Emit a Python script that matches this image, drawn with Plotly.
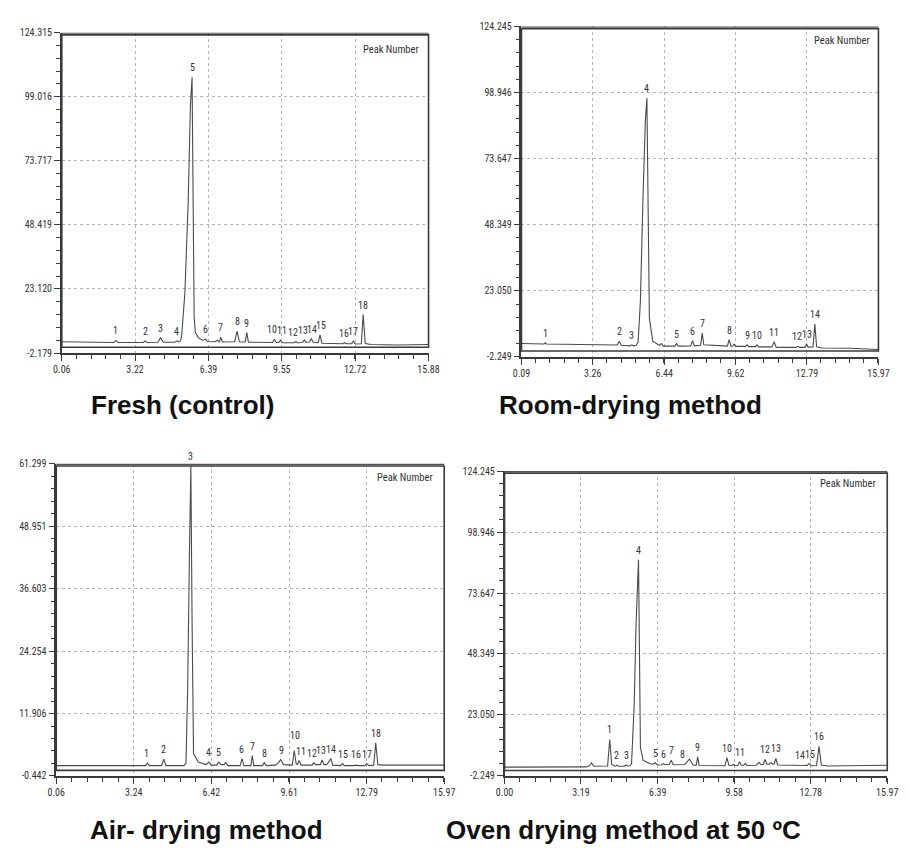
import plotly.graph_objects as go

# ---------------- Fresh (control) ----------------
fresh_time = [0.06, 1.20, 2.30, 2.39, 2.48, 3.58, 3.66, 3.74, 4.20, 4.32, 4.44, 4.94, 5.02, 5.10,
              5.18, 5.23, 5.37, 5.51, 5.61, 5.68, 5.73, 5.77, 5.82, 5.95, 6.15, 6.26, 6.34, 6.68,
              6.76, 6.82, 6.86, 6.92, 6.99, 7.52, 7.62, 7.72, 7.97, 8.04, 8.11, 9.15, 9.23, 9.31,
              9.42, 9.49, 9.56, 10.08, 10.15, 10.22, 10.45, 10.52, 10.60, 10.75, 10.82, 10.90,
              11.12, 11.20, 11.28, 12.18, 12.26, 12.34, 12.56, 12.64, 12.72, 12.98, 13.06, 13.15,
              13.40, 14.60, 15.88]
fresh_signal = [2.3, 2.1, 2.0, 2.8, 2.0, 2.0, 2.6, 2.0, 2.1, 3.8, 2.1, 2.1, 2.6, 2.2,
                2.6, 4.6, 21.5, 56.7, 95.7, 106.7, 55.0, 12.0, 6.0, 3.8, 2.8, 3.4, 2.4, 2.3,
                2.9, 2.2, 2.2, 4.1, 2.2, 2.3, 6.5, 2.3, 2.2, 5.9, 2.1, 2.0, 3.3, 2.0,
                2.0, 2.9, 1.9, 1.9, 2.3, 1.9, 2.0, 3.0, 2.1, 2.2, 3.5, 2.2,
                1.9, 5.0, 1.7, 1.5, 1.9, 1.5, 1.5, 2.6, 1.4, 1.5, 13.0, 1.6,
                1.2, 1.0, 1.2]
fresh_peak_no = ["1", "2", "3", "4", "5", "6", "7", "8", "9", "10", "11", "12", "13", "14",
                 "15", "16", "17", "18"]
fresh_peak_time = [2.39, 3.66, 4.32, 5.02, 5.68, 6.26, 6.92, 7.62, 8.04, 9.14, 9.56, 10.03,
                   10.45, 10.85, 11.26, 12.24, 12.64, 13.06]
fresh_peak_height = [2.8, 2.6, 3.8, 2.6, 106.7, 3.4, 4.1, 6.5, 5.9, 3.3, 2.9, 2.3,
                     3.0, 3.5, 5.0, 1.9, 2.6, 13.0]
fresh_xticks = ["0.06", "3.22", "6.39", "9.55", "12.72", "15.88"]
fresh_yticks = ["-2.179", "23.120", "48.419", "73.717", "99.016", "124.315"]

# ---------------- Room-drying ----------------
room_time = [0.09, 0.80, 1.10, 1.15, 1.20, 3.50, 4.35, 4.44, 4.53, 4.92, 4.99, 5.08, 5.20,
             5.28, 5.38, 5.49, 5.60, 5.67, 5.73, 5.78, 5.93, 6.22, 6.32, 6.40, 6.92, 6.99,
             7.06, 7.62, 7.70, 7.78, 8.06, 8.13, 8.20, 9.25, 9.33, 9.41, 9.49, 9.55, 9.62,
             10.06, 10.13, 10.20, 10.50, 10.57, 10.64, 11.24, 11.33, 11.42, 12.30, 12.38,
             12.46, 12.70, 12.77, 12.84, 13.06, 13.14, 13.22, 13.45, 14.70, 15.97]
room_signal = [2.9, 2.8, 2.7, 3.2, 2.7, 2.4, 2.3, 3.8, 2.2, 2.0, 2.4, 2.0, 2.2,
               3.5, 19.0, 56.6, 88.0, 96.8, 56.0, 12.6, 3.8, 2.2, 2.9, 1.9, 1.9, 2.9,
               1.9, 2.0, 4.0, 2.0, 2.2, 6.9, 2.4, 1.9, 4.4, 1.8, 1.9, 2.6, 1.8,
               1.8, 2.4, 1.7, 1.7, 2.4, 1.6, 1.6, 3.6, 1.4, 1.4, 1.8,
               1.4, 1.4, 2.8, 1.5, 1.6, 10.3, 1.6, 1.2, 1.1, 0.6]
room_peak_no = ["1", "2", "3", "4", "5", "6", "7", "8", "9", "10", "11", "12", "13", "14"]
room_peak_time = [1.15, 4.44, 4.99, 5.67, 6.99, 7.70, 8.13, 9.33, 10.13, 10.57, 11.33,
                  12.36, 12.77, 13.14]
room_peak_height = [3.2, 3.8, 2.4, 96.8, 2.9, 4.0, 6.9, 4.4, 2.4, 2.4, 3.6, 1.8, 2.8, 10.3]
room_xticks = ["0.09", "3.26", "6.44", "9.62", "12.79", "15.97"]
room_yticks = ["-2.249", "23.050", "48.349", "73.647", "98.946", "124.245"]

# ---------------- Air-drying ----------------
air_time = [0.06, 2.00, 3.72, 3.80, 3.88, 4.38, 4.47, 4.56, 5.30, 5.38, 5.45, 5.52, 5.58,
            5.63, 5.69, 5.88, 6.20, 6.32, 6.42, 6.64, 6.72, 6.82, 6.94, 7.01, 7.10, 7.60,
            7.68, 7.76, 8.04, 8.10, 8.16, 8.52, 8.59, 8.67, 9.05, 9.18, 9.26, 9.38, 9.74,
            9.82, 9.90, 9.96, 10.02, 10.10, 10.55, 10.62, 10.70, 10.89, 10.96, 11.04, 11.14,
            11.22, 11.32, 11.40, 11.72, 11.80, 11.88, 12.28, 12.36, 12.44, 12.72, 12.79,
            12.88, 13.08, 13.16, 13.25, 13.50, 15.97]
air_signal = [1.6, 1.6, 1.6, 2.1, 1.6, 1.6, 2.9, 1.6, 1.6, 2.1, 17.0, 43.0, 60.8,
              30.0, 4.0, 2.3, 1.8, 2.3, 1.7, 1.7, 2.3, 1.8, 1.8, 2.2, 1.6, 1.6,
              3.0, 1.6, 1.6, 3.6, 1.6, 1.6, 2.2, 1.6, 1.7, 2.2, 2.8, 1.8, 1.7,
              4.6, 1.9, 1.9, 2.6, 1.7, 1.7, 2.2, 1.8, 1.8, 2.7, 1.8, 1.8,
              2.2, 3.0, 1.7, 1.6, 2.0, 1.6, 1.6, 1.7, 1.6, 1.6, 2.0,
              1.6, 1.7, 6.1, 1.8, 1.7, 1.7]
air_peak_no = ["1", "2", "3", "4", "5", "6", "7", "8", "9", "10", "11", "12", "13", "14",
               "15", "16", "17", "18"]
air_peak_time = [3.78, 4.45, 5.58, 6.32, 6.72, 7.66, 8.10, 8.59, 9.28, 9.84, 10.08, 10.55,
                 10.93, 11.32, 11.80, 12.36, 12.79, 13.16]
air_peak_height = [2.1, 2.9, 60.8, 2.3, 2.3, 3.0, 3.6, 2.2, 2.8, 5.6, 2.6, 2.2,
                   2.7, 3.0, 2.0, 1.9, 2.0, 6.1]
air_xticks = ["0.06", "3.24", "6.42", "9.61", "12.79", "15.97"]
air_yticks = ["-0.442", "11.906", "24.254", "36.603", "48.951", "61.299"]

# ---------------- Oven drying 50 ºC ----------------
oven_time = [0.00, 2.00, 3.40, 3.55, 3.63, 3.72, 4.30, 4.39, 4.47, 4.62, 4.69, 4.76, 4.99,
             5.06, 5.14, 5.24, 5.30, 5.41, 5.49, 5.59, 5.63, 5.67, 5.78, 6.05, 6.20, 6.29,
             6.38, 6.55, 6.62, 6.70, 6.88, 6.96, 7.04, 7.38, 7.45, 7.52, 7.71, 7.88, 8.00,
             8.06, 8.12, 9.20, 9.28, 9.36, 9.50, 9.56, 9.62, 9.74, 9.81, 9.88, 9.98, 10.05,
             10.12, 10.50, 10.62, 10.70, 10.80, 10.87, 10.95, 11.05, 11.12, 11.20, 11.25,
             11.32, 11.40, 12.20, 12.37, 12.45, 12.62, 12.71, 12.80, 13.02, 13.12, 13.22,
             13.50, 15.97]
oven_signal = [1.4, 1.3, 1.5, 2.0, 3.2, 1.8, 1.9, 12.9, 2.5, 1.8, 2.2, 1.8, 1.8,
               2.2, 1.9, 2.0, 2.9, 27.5, 61.5, 87.4, 48.0, 9.7, 4.3, 2.9, 2.6, 3.2,
               2.3, 2.4, 2.9, 2.4, 2.6, 4.3, 2.4, 2.4, 2.7, 2.5, 4.7, 2.2, 2.2,
               5.7, 2.1, 2.0, 5.4, 2.2, 2.1, 2.6, 2.0, 2.2, 3.6, 2.2, 2.2, 3.0,
               2.1, 2.2, 3.4, 2.4, 2.6, 4.6, 2.6, 2.6, 3.2, 2.6, 2.7,
               5.0, 2.3, 2.0, 2.2, 2.0, 2.1, 2.9, 2.0, 2.1, 10.0, 2.3,
               1.9, 2.2]
oven_peak_no = ["1", "2", "3", "4", "5", "6", "7", "8", "9", "10", "11", "12", "13", "14",
                "15", "16"]
oven_peak_time = [4.39, 4.69, 5.07, 5.59, 6.31, 6.62, 6.96, 7.43, 8.06, 9.30, 9.81, 10.88,
                  11.32, 12.31, 12.74, 13.14]
oven_peak_height = [12.9, 2.2, 2.2, 87.4, 3.2, 2.9, 4.3, 2.7, 5.7, 5.4, 3.6, 4.6,
                    5.0, 2.2, 2.9, 10.0]
oven_xticks = ["0.00", "3.19", "6.39", "9.58", "12.78", "15.97"]
oven_yticks = ["-2.249", "23.050", "48.349", "73.647", "98.946", "124.245"]

panel_titles = ["Fresh (control)", "Room-drying method", "Air- drying method",
                "Oven drying method at 50 ºC"]

# ---------------- layout / styling ----------------
NARROW = "Liberation Sans Narrow, Arial Narrow, Roboto Condensed, DejaVu Sans Condensed, sans-serif"
BOLD = "Liberation Sans, Arial, sans-serif"
INK = "#3a3a3a"

panels = [
    dict(t=fresh_time, s=fresh_signal, pn=fresh_peak_no, pt=fresh_peak_time, ph=fresh_peak_height,
         xt=fresh_xticks, yt=fresh_yticks, xd=[0.0593, 0.4714], yd=[0.5854, 0.9682],
         title=panel_titles[0], tx=0.195, ty=0.523, pnx=0.979, pny=0.948),
    dict(t=room_time, s=room_signal, pn=room_peak_no, pt=room_peak_time, ph=room_peak_height,
         xt=room_xticks, yt=room_yticks, xd=[0.5758, 0.9769], yd=[0.5807, 0.9756],
         title=panel_titles[1], tx=0.698, ty=0.523, pnx=0.981, pny=0.956),
    dict(t=air_time, s=air_signal, pn=air_peak_no, pt=air_peak_time, ph=air_peak_height,
         xt=air_xticks, yt=air_yticks, xd=[0.0531, 0.4890], yd=[0.0801, 0.4531],
         title=panel_titles[2], tx=0.222, ty=0.0153, pnx=0.977, pny=0.956),
    dict(t=oven_time, s=oven_signal, pn=oven_peak_no, pt=oven_peak_time, ph=oven_peak_height,
         xt=oven_xticks, yt=oven_yticks, xd=[0.5568, 0.9868], yd=[0.0801, 0.4444],
         title=panel_titles[3], tx=0.691, ty=0.0153, pnx=0.977, pny=0.959),
]

fig = go.Figure()
annotations = []
shapes = []
layout_axes = {}

for i, p in enumerate(panels, start=1):
    sfx = "" if i == 1 else str(i)
    xa, ya = "x" + sfx, "y" + sfx
    fig.add_trace(go.Scatter(x=p["t"], y=p["s"], mode="lines", xaxis=xa, yaxis=ya,
                             line=dict(color="#4a4a4a", width=1.1), showlegend=False,
                             hoverinfo="skip"))
    xv = [float(v) for v in p["xt"]]
    yv = [float(v) for v in p["yt"]]
    xstep = (xv[1] - xv[0]) / 5.0
    ystep = (yv[1] - yv[0]) / 5.0
    common = dict(showline=True, linecolor=INK, linewidth=1.5, ticks="outside", ticklen=6,
                  tickwidth=1, tickcolor=INK, zeroline=False, showgrid=True,
                  gridcolor="#b4b4b4", griddash="dot", gridwidth=1,
                  tickfont=dict(family=NARROW, size=10, color="#333333"), fixedrange=True)
    layout_axes["xaxis" + sfx] = dict(common, domain=p["xd"], range=[xv[0], xv[-1]],
                                      anchor=ya, tickmode="array", tickvals=xv, ticktext=p["xt"],
                                      minor=dict(tickmode="linear", tick0=xv[0], dtick=xstep,
                                                 ticks="outside", ticklen=4, tickcolor=INK,
                                                 showgrid=False))
    layout_axes["yaxis" + sfx] = dict(common, domain=p["yd"], range=[yv[0], yv[-1]],
                                      anchor=xa, tickmode="array", tickvals=yv, ticktext=p["yt"],
                                      minor=dict(tickmode="linear", tick0=yv[0], dtick=ystep,
                                                 ticks="outside", ticklen=4, tickcolor=INK,
                                                 showgrid=False))
    # chart frame (box) drawn in axis-domain coordinates
    shapes.append(dict(type="rect", xref=xa + " domain", yref=ya + " domain",
                       x0=0, x1=1, y0=0.018, y1=0.993,
                       line=dict(color=INK, width=1.6), layer="above"))
    shapes.append(dict(type="line", xref=xa + " domain", yref=ya + " domain",
                       x0=0, x1=1, y0=0.998, y1=0.998,
                       line=dict(color="#555555", width=1.2), layer="above"))
    # peak number labels
    for n, t, h in zip(p["pn"], p["pt"], p["ph"]):
        annotations.append(dict(x=t, y=h, xref=xa, yref=ya, text=n, showarrow=False,
                                yanchor="bottom", yshift=2,
                                font=dict(family=NARROW, size=10, color="#333333")))
    annotations.append(dict(x=p["pnx"], y=p["pny"], xref=xa + " domain", yref=ya + " domain",
                            text="Peak Number", showarrow=False, xanchor="right",
                            yanchor="middle",
                            font=dict(family=NARROW, size=10.5, color="#333333")))
    annotations.append(dict(x=p["tx"], y=p["ty"], xref="paper", yref="paper",
                            text="<b>" + p["title"] + "</b>",
                            showarrow=False, xanchor="center", yanchor="middle",
                            font=dict(family=BOLD, size=26, color="#111111")))

fig.update_layout(width=910, height=849, margin=dict(l=0, r=0, t=0, b=0),
                  paper_bgcolor="white", plot_bgcolor="white",
                  annotations=annotations, shapes=shapes, **layout_axes)

fig.write_html("out.html", config={"displayModeBar": False},
               post_script="document.body.style.margin='0px';"
                           "document.body.style.padding='0px';"
                           "document.documentElement.style.overflow='hidden';")
